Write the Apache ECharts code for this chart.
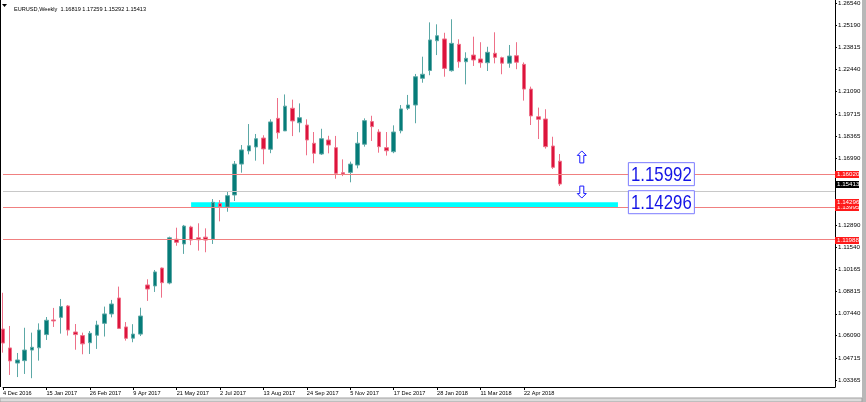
<!DOCTYPE html>
<html><head><meta charset="utf-8">
<script src="https://cdn.jsdelivr.net/npm/echarts@6/dist/echarts.min.js"></script>
<style>html,body{margin:0;padding:0;background:#fff}#c{width:866px;height:402px}</style>
</head><body><div id="c"></div>
<script>
const titleText = 'EURUSD,Weekly  1.16819 1.17259 1.15292 1.15413';
const weeks = ['4 Dec 2016','11 Dec 2016','18 Dec 2016','25 Dec 2016',
'1 Jan 2017','8 Jan 2017','15 Jan 2017','22 Jan 2017','29 Jan 2017','5 Feb 2017','12 Feb 2017','19 Feb 2017','26 Feb 2017',
'5 Mar 2017','12 Mar 2017','19 Mar 2017','26 Mar 2017','2 Apr 2017','9 Apr 2017','16 Apr 2017','23 Apr 2017','30 Apr 2017',
'7 May 2017','14 May 2017','21 May 2017','28 May 2017','4 Jun 2017','11 Jun 2017','18 Jun 2017','25 Jun 2017',
'2 Jul 2017','9 Jul 2017','16 Jul 2017','23 Jul 2017','30 Jul 2017','6 Aug 2017','13 Aug 2017','20 Aug 2017','27 Aug 2017',
'3 Sep 2017','10 Sep 2017','17 Sep 2017','24 Sep 2017','1 Oct 2017','8 Oct 2017','15 Oct 2017','22 Oct 2017','29 Oct 2017',
'5 Nov 2017','12 Nov 2017','19 Nov 2017','26 Nov 2017','3 Dec 2017','10 Dec 2017','17 Dec 2017','24 Dec 2017','31 Dec 2017',
'7 Jan 2018','14 Jan 2018','21 Jan 2018','28 Jan 2018','4 Feb 2018','11 Feb 2018','18 Feb 2018','25 Feb 2018',
'4 Mar 2018','11 Mar 2018','18 Mar 2018','25 Mar 2018','1 Apr 2018','8 Apr 2018','15 Apr 2018','22 Apr 2018','29 Apr 2018',
'6 May 2018','13 May 2018','20 May 2018','27 May 2018'];
const opens = [1.0650,1.0534,1.0441,1.0456,1.0521,1.0535,1.0616,1.0706,1.0722,1.0792,1.0632,1.0610,1.0566,
1.0612,1.0685,1.0743,1.0841,1.0663,1.0594,1.0619,1.0921,1.0915,1.1025,1.0933,1.1202,1.1173,1.1277,1.1211,1.1215,1.1202,
1.1421,1.1400,1.1474,1.1664,1.1745,1.1769,1.1824,1.1755,1.1945,1.1868,1.2007,1.1918,1.1904,1.1792,1.1726,1.1812,1.1765,1.1611,
1.1613,1.1658,1.1786,1.1925,1.1861,1.1765,1.1740,1.1869,1.2007,1.2027,1.2191,1.2239,1.2422,1.2433,1.2238,1.2400,1.2293,
1.2334,1.2310,1.2287,1.2345,1.2318,1.2284,1.2330,1.2277,1.2125,1.1955,1.1941,1.1775,1.16819];
const highs = [1.0873,1.0669,1.0503,1.0658,1.0628,1.0685,1.0724,1.0780,1.0835,1.0798,1.0681,1.0628,1.0638,
1.0701,1.0788,1.0829,1.0911,1.0693,1.0680,1.0781,1.0956,1.1013,1.1028,1.1218,1.1273,1.1290,1.1285,1.1300,1.1269,1.1449,
1.1443,1.1494,1.1683,1.1781,1.1910,1.1849,1.1841,1.1939,1.2070,1.2092,1.2060,1.2037,1.1939,1.1861,1.1881,1.1838,1.1837,1.1693,
1.1679,1.1861,1.1945,1.1961,1.1878,1.1861,1.1902,1.2027,1.2089,1.2218,1.2324,1.2535,1.2523,1.2471,1.2554,1.2431,1.2351,
1.2447,1.2413,1.2385,1.2474,1.2324,1.2396,1.2413,1.2289,1.2140,1.2011,1.2001,1.1832,1.17259];
const lows = [1.0505,1.0368,1.0355,1.0374,1.0348,1.0456,1.0583,1.0663,1.0622,1.0610,1.0523,1.0495,1.0497,
1.0528,1.0604,1.0722,1.0650,1.0579,1.0569,1.0607,1.0823,1.0878,1.0843,1.0925,1.1162,1.1112,1.1166,1.1132,1.1122,1.1173,
1.1312,1.1371,1.1437,1.1611,1.1724,1.1685,1.1663,1.1731,1.1820,1.1867,1.1836,1.1859,1.1718,1.1669,1.1720,1.1730,1.1574,1.1590,
1.1552,1.1638,1.1771,1.1806,1.1734,1.1716,1.1731,1.1853,1.1996,1.1915,1.2164,1.2210,1.2334,1.2201,1.2232,1.2256,1.2154,
1.2267,1.2256,1.2236,1.2283,1.2216,1.2256,1.2247,1.2054,1.1904,1.1818,1.1759,1.1634,1.15292];
const closes = [1.0564,1.0454,1.0460,1.0521,1.0538,1.0644,1.0704,1.0700,1.0788,1.0644,1.0616,1.0559,1.0624,
1.0675,1.0743,1.0804,1.0654,1.0593,1.0619,1.0730,1.0896,1.1001,1.0935,1.1211,1.1183,1.1283,1.1197,1.1199,1.1197,1.1429,
1.1402,1.1470,1.1664,1.1751,1.1776,1.1820,1.1757,1.1923,1.1857,1.2020,1.1929,1.1949,1.1812,1.1730,1.1820,1.1781,1.1607,1.1603,
1.1664,1.1792,1.1931,1.1894,1.1771,1.1746,1.1861,1.2003,1.2027,1.2201,1.2216,1.2427,1.2453,1.2252,1.2406,1.2293,1.2314,
1.2304,1.2287,1.2351,1.2320,1.2284,1.2328,1.2290,1.2125,1.1960,1.1939,1.1771,1.1644,1.15413];
const priceTicks = [1.26540,1.25190,1.23815,1.22440,1.21090,1.19715,1.18365,1.16990,1.12890,1.11540,1.10165,1.08815,1.07440,1.06090,1.04715,1.03365];
const levelPrices = [1.16020,1.15413,1.13995,1.14296,1.11988];
const levelIsBid = [false,true,false,false,false];
const zonePrices = [1.14296,1.13995];
const zoneWeeks = [26,85];
const boxTexts = ['1.15992','1.14296'];
const boxPrices = [1.16020,1.14296];
const boxSlot = 91;
const arrowPrices = [1.1708,1.1492];
const arrowSlot = 80;
const slotCount = 116;

const cats = weeks.concat(Array.from({length: slotCount - weeks.length}, (_, i) => 'pad' + i));
const ohlc = opens.map((o, i) => [o, closes[i], lows[i], highs[i]]);
const showIdx = (i) => i % 6 === 0 && i < weeks.length;
const FONT = '"Liberation Sans", Arial, sans-serif';

const chart = echarts.init(document.getElementById('c'), null, {renderer: 'canvas'});
chart.setOption({
  animation: false,
  backgroundColor: '#fff',
  title: {text: titleText, left: 9, top: 1, textStyle: {fontSize: 5.6, fontWeight: 'normal', color: '#000', fontFamily: FONT}},
  grid: {left: 1, right: 31, top: 0, bottom: 15, show: false},
  xAxis: {
    type: 'category', data: cats, boundaryGap: false,
    axisLine: {show: true, lineStyle: {color: '#000', width: 1}},
    axisTick: {show: true, length: 3, interval: showIdx, lineStyle: {color: '#000'}},
    axisLabel: {interval: showIdx, align: 'left', margin: 3, fontSize: 5.6, color: '#000', fontFamily: FONT},
    splitLine: {show: false}
  },
  yAxis: {
    type: 'value', position: 'right', min: 1.02939, max: 1.26724,
    axisLine: {show: true, lineStyle: {color: '#000', width: 1}},
    axisTick: {show: true, length: 2, customValues: priceTicks, lineStyle: {color: '#000'}},
    axisLabel: {customValues: priceTicks, formatter: v => v.toFixed(5), fontSize: 6.2, color: '#000', margin: 3, fontFamily: FONT},
    splitLine: {show: false}
  },
  series: [{
    type: 'candlestick', data: ohlc, barWidth: 4, clip: true,
    itemStyle: {color: '#067c79', color0: '#dc143c', borderColor: '#5ca8a6', borderColor0: '#ee7088', borderWidth: 1},
    markArea: {silent: true, itemStyle: {color: '#00ffff'},
      data: [[{xAxis: zoneWeeks[0], yAxis: zonePrices[0]}, {xAxis: zoneWeeks[1], yAxis: zonePrices[1]}]]},
    markLine: {silent: true, symbol: ['none', 'none'], animation: false, label: {show: false},
      data: levelPrices.map((p, i) => ({
        yAxis: p,
        lineStyle: {color: levelIsBid[i] ? '#c8c8c8' : '#f08080', type: 'solid', width: 1}
      }))}
  }]
});

function place() {
  const g = [];
  levelPrices.forEach((p, i) => {
    const y = chart.convertToPixel({yAxisIndex: 0}, p);
    g.push({type: 'rect', shape: {x: 835, y: Math.round(y) - 3, width: 24, height: 7},
      style: {fill: levelIsBid[i] ? '#000' : '#ff1a1a'}, z: 110 + i});
    g.push({type: 'text', x: 837, y: Math.round(y) + 0.5, z: 110 + i,
      style: {text: p.toFixed(5), font: '6.2px ' + FONT, fill: '#fff', align: 'left', verticalAlign: 'middle', textAlign: 'left', textVerticalAlign: 'middle'}});
  });
  boxPrices.forEach((p, i) => {
    const [x, y] = chart.convertToPixel({gridIndex: 0}, [boxSlot, p]);
    g.push({type: 'rect', shape: {x: x - 33, y: y - 11.5, width: 66, height: 23}, style: {fill: '#fff', stroke: '#7b7bff', lineWidth: 1}, z: 100});
    g.push({type: 'text', x: x, y: y + 1, scaleX: 0.8, z: 101,
      style: {text: boxTexts[i], font: '21px ' + FONT, fill: '#1414e6', align: 'center', verticalAlign: 'middle', textAlign: 'center', textVerticalAlign: 'middle'}});
  });
  arrowPrices.forEach((p, i) => {
    const [x, y] = chart.convertToPixel({gridIndex: 0}, [arrowSlot, p]);
    const s = i === 0 ? 1 : -1;
    const pts = [[0, -6], [4.5, -1.5], [2, -1.5], [2, 6], [-2, 6], [-2, -1.5], [-4.5, -1.5]].map(([a, b]) => [x + a, y + s * b]);
    g.push({type: 'polygon', shape: {points: pts}, style: {fill: '#fff', stroke: '#1a1aff', lineWidth: 1}, z: 100});
  });
  g.push({type: 'polygon', shape: {points: [[2, 4], [7, 4], [4.5, 7]]}, style: {fill: '#000'}, z: 100});
  g.push({type: 'line', shape: {x1: 0.5, y1: 0, x2: 0.5, y2: 387}, style: {stroke: '#000', lineWidth: 1}, z: 100});
  g.push({type: 'rect', shape: {x: 862, y: 0, width: 4, height: 402}, style: {fill: '#b8b8b8'}, z: 100});
  g.push({type: 'rect', shape: {x: 0, y: 398, width: 862, height: 4}, style: {fill: '#dcdcdc', stroke: '#a0a0a0', lineWidth: 1}, z: 100});
  chart.setOption({graphic: g});
}
place();
</script>
</body></html>
